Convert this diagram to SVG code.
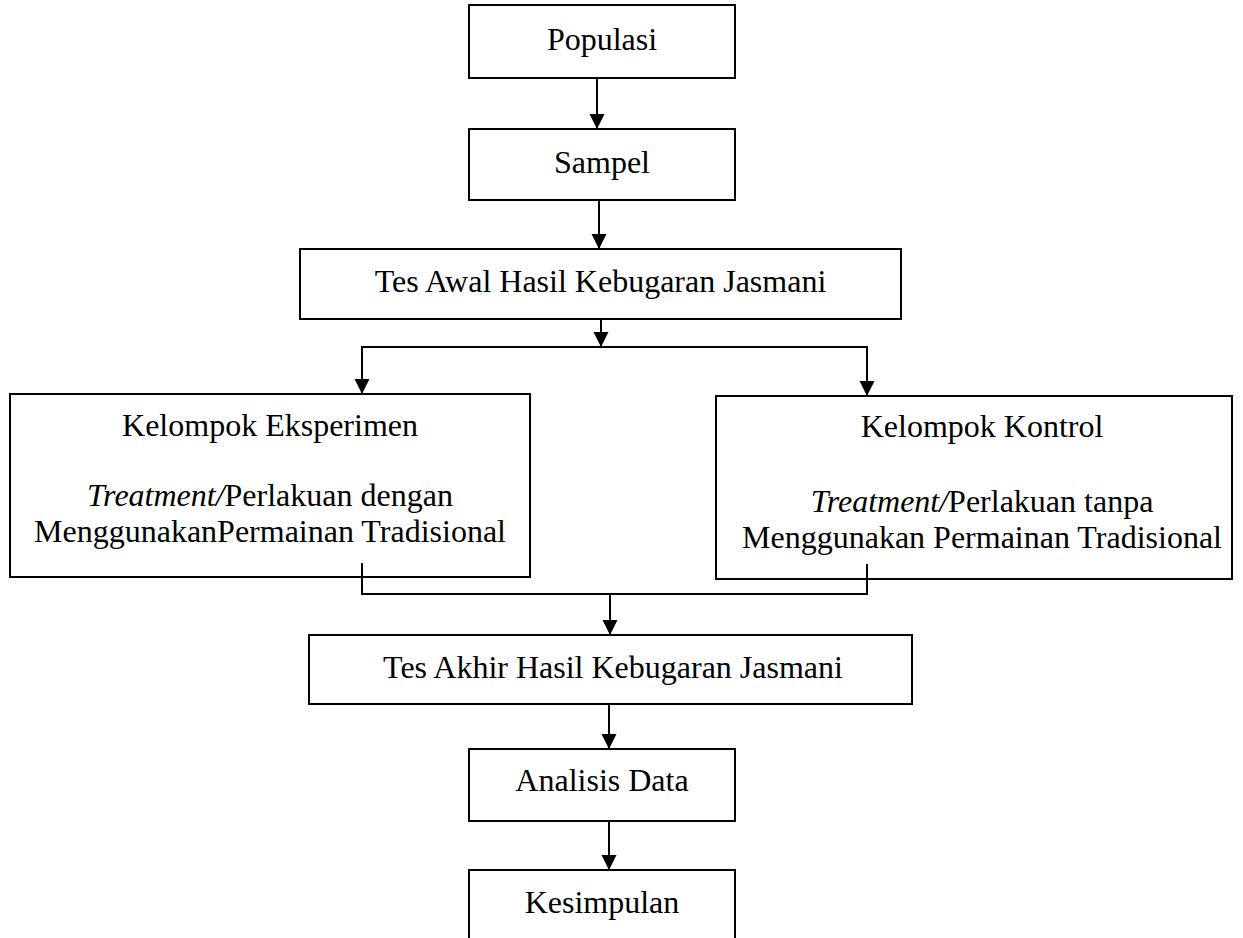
<svg xmlns="http://www.w3.org/2000/svg" width="1243" height="938" viewBox="0 0 1243 938">
<style>
.box{fill:#fff;stroke:#000;stroke-width:2}
.t{font-family:"Liberation Serif","Times New Roman",serif;font-size:32px;fill:#000;text-anchor:middle}
.c{fill:none;stroke:#000;stroke-width:2}
</style>
<defs>
<marker id="ah" markerUnits="userSpaceOnUse" markerWidth="16" markerHeight="16" viewBox="0 0 16 16" refX="15" refY="8" orient="auto">
<path d="M0,0.5 L15,8 L0,15.5 Z" fill="#000"/>
</marker>
</defs>
<rect width="1243" height="938" fill="#fff"/>
<g id="populasi"><rect class="box" x="469" y="5" width="266" height="73"/><text class="t" x="602" y="50">Populasi</text></g>
<g id="sampel"><rect class="box" x="469" y="129" width="266" height="71"/><text class="t" x="602" y="173">Sampel</text></g>
<g id="tes-awal"><rect class="box" x="300" y="249" width="601" height="70"/><text class="t" x="600.5" y="292">Tes Awal Hasil Kebugaran Jasmani</text></g>
<g id="eksperimen"><rect class="box" x="10" y="394" width="520" height="183"/>
<text class="t" x="270" y="436">Kelompok Eksperimen</text>
<text class="t" x="270" y="506"><tspan font-style="italic">Treatment/</tspan>Perlakuan dengan</text>
<text class="t" x="270" y="542">MenggunakanPermainan Tradisional</text></g>
<g id="kontrol"><rect class="box" x="716" y="396" width="516" height="183"/>
<text class="t" x="982" y="437">Kelompok Kontrol</text>
<text class="t" x="982" y="512"><tspan font-style="italic">Treatment/</tspan>Perlakuan tanpa</text>
<text class="t" x="982" y="548">Menggunakan Permainan Tradisional</text></g>
<g id="tes-akhir"><rect class="box" x="309" y="635" width="603" height="69"/><text class="t" x="613" y="678">Tes Akhir Hasil Kebugaran Jasmani</text></g>
<g id="analisis"><rect class="box" x="469" y="749" width="266" height="72"/><text class="t" x="602" y="791">Analisis Data</text></g>
<g id="kesimpulan"><rect class="box" x="469" y="870" width="266" height="80"/><text class="t" x="602" y="913">Kesimpulan</text></g>
<g id="connectors">
<line class="c" x1="597" y1="78" x2="597" y2="129" marker-end="url(#ah)"/>
<line class="c" x1="599" y1="200" x2="599" y2="249" marker-end="url(#ah)"/>
<line class="c" x1="601" y1="319" x2="601" y2="347" marker-end="url(#ah)"/>
<line class="c" x1="361" y1="347" x2="868" y2="347"/>
<line class="c" x1="362" y1="347" x2="362" y2="394" marker-end="url(#ah)"/>
<line class="c" x1="867" y1="347" x2="867" y2="396" marker-end="url(#ah)"/>
<path class="c" d="M362,563 V594 H867 V564"/>
<line class="c" x1="610" y1="594" x2="610" y2="635" marker-end="url(#ah)"/>
<line class="c" x1="609" y1="704" x2="609" y2="749" marker-end="url(#ah)"/>
<line class="c" x1="609" y1="821" x2="609" y2="870" marker-end="url(#ah)"/>
</g>
</svg>
